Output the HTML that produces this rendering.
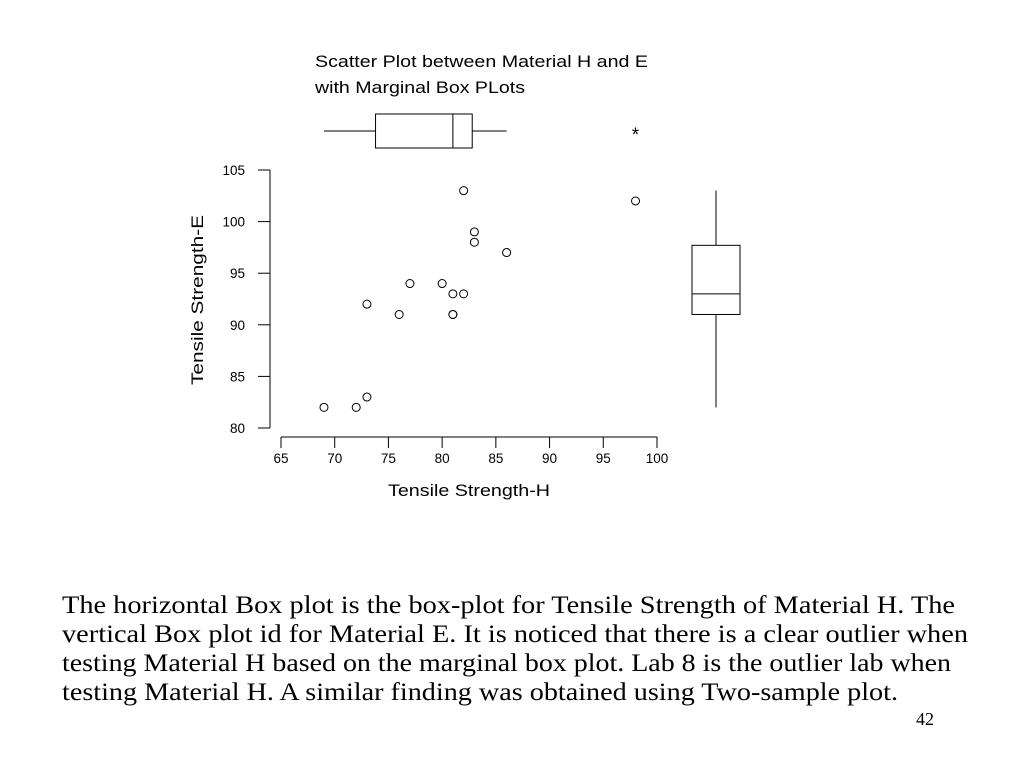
<!DOCTYPE html>
<html><head><meta charset="utf-8"><style>
body{margin:0;background:#fff;width:1024px;height:768px;overflow:hidden;position:relative;font-family:"Liberation Sans",sans-serif}
</style></head><body>
<svg id="chart" width="1024" height="768" style="position:absolute;left:0;top:0" font-family="Liberation Sans, sans-serif">
<g font-family="Liberation Serif, serif" font-size="25">
<text x="62" y="613" textLength="893" lengthAdjust="spacingAndGlyphs">The horizontal Box plot is the box-plot for Tensile Strength of Material H. The</text>
<text x="62" y="642" textLength="906" lengthAdjust="spacingAndGlyphs">vertical Box plot id for Material E. It is noticed that there is a clear outlier when</text>
<text x="62" y="671" textLength="889" lengthAdjust="spacingAndGlyphs">testing Material H based on the marginal box plot. Lab 8 is the outlier lab when</text>
<text x="62" y="700" textLength="836" lengthAdjust="spacingAndGlyphs">testing Material H. A similar finding was obtained using Two-sample plot.</text>
</g>
<text x="916" y="725" font-family="Liberation Serif, serif" font-size="18">42</text>
</svg>
<script>
const xs=[69,72,73,73,76,77,80,81,81,81,82,82,83,83,86,98];
const ys=[82,82,83,92,91,94,94,93,91,91,93,103,99,98,97,102];
const xTicks=[65,70,75,80,85,90,95,100];
const yTicks=[80,85,90,95,100,105];
const hBox=[69,73.8,81,82.8,86];const hOut=[98];
const vBox=[82,91,93,97.7,103];
const X=v=>281+(v-65)*(376/35), Y=v=>428-(v-80)*(258/25);
const svg=document.getElementById('chart');const NS='http://www.w3.org/2000/svg';
function mk(t,a,txt){const e=document.createElementNS(NS,t);for(const k in a)e.setAttribute(k,a[k]);if(txt!=null)e.textContent=txt;svg.appendChild(e);return e;}
const ln={stroke:'#000','stroke-width':1,fill:'none'};
let e;
e=mk('text',{x:315,y:67,'font-size':17,textLength:333,lengthAdjust:'spacingAndGlyphs'},'Scatter Plot between Material H and E');


e=mk('text',{x:315,y:93,'font-size':17,textLength:210,lengthAdjust:'spacingAndGlyphs'},'with Marginal Box PLots');


e=mk('line',{...ln,x1:270,y1:Y(105),x2:270,y2:Y(80)});


yTicks.forEach(t=>{e=mk('line',{...ln,x1:258,y1:Y(t),x2:270,y2:Y(t)});


e=mk('text',{x:245,y:Y(t)+5,'font-size':13.5,'text-anchor':'end'},t);

});
e=mk('line',{...ln,x1:X(65),y1:437,x2:X(100),y2:437});


xTicks.forEach(t=>{e=mk('line',{...ln,x1:X(t),y1:437,x2:X(t),y2:448});


e=mk('text',{x:X(t),y:463,'font-size':13.5,'text-anchor':'middle'},t);

});
e=mk('text',{x:388,y:496,'font-size':17,textLength:162,lengthAdjust:'spacingAndGlyphs'},'Tensile Strength-H');


e=mk('text',{x:-385,y:203,'font-size':17,transform:'rotate(-90)',textLength:170,lengthAdjust:'spacingAndGlyphs'},'Tensile Strength-E');


xs.forEach((v,i)=>{e=mk('circle',{...ln,cx:X(v),cy:Y(ys[i]),r:4});

});
const hy1=114,hy2=148,hm=131;
e=mk('line',{...ln,x1:X(hBox[0]),y1:hm,x2:X(hBox[1]),y2:hm});


e=mk('line',{...ln,x1:X(hBox[3]),y1:hm,x2:X(hBox[4]),y2:hm});


e=mk('rect',{...ln,x:X(hBox[1]),y:hy1,width:X(hBox[3])-X(hBox[1]),height:hy2-hy1});


e=mk('line',{...ln,x1:X(hBox[2]),y1:hy1,x2:X(hBox[2]),y2:hy2});


hOut.forEach(v=>{e=mk('text',{x:X(v),y:141,'font-size':19,'text-anchor':'middle'},'*');

});
const vx1=692,vx2=740,vm=716;
e=mk('line',{...ln,x1:vm,y1:Y(vBox[0]),x2:vm,y2:Y(vBox[1])});


e=mk('line',{...ln,x1:vm,y1:Y(vBox[3]),x2:vm,y2:Y(vBox[4])});


e=mk('rect',{...ln,x:vx1,y:Y(vBox[3]),width:vx2-vx1,height:Y(vBox[1])-Y(vBox[3])});


e=mk('line',{...ln,x1:vx1,y1:Y(vBox[2]),x2:vx2,y2:Y(vBox[2])});


</script>
</body></html>
